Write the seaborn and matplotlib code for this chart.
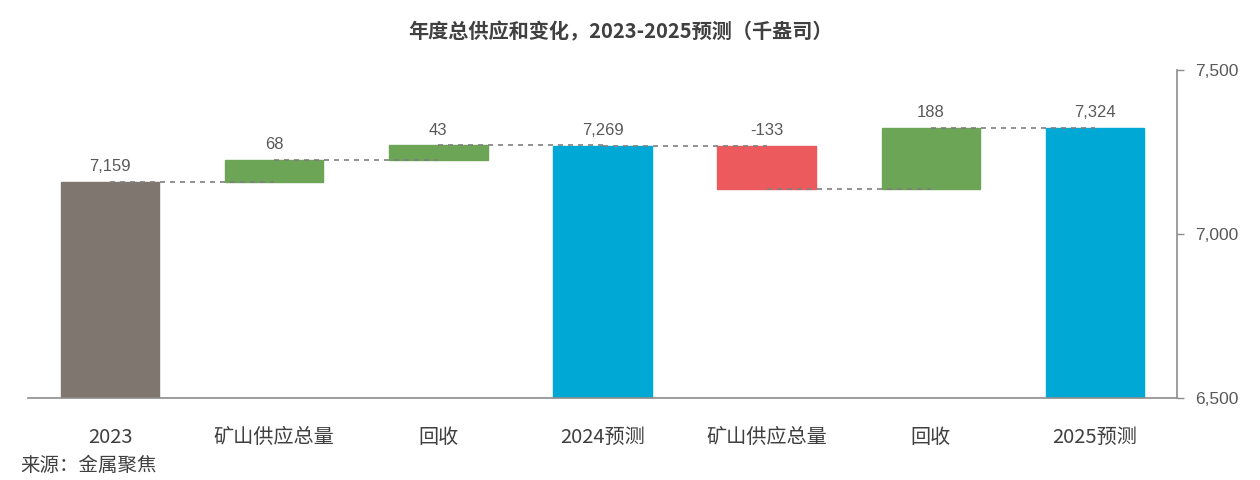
import numpy as np
import pandas as pd
import seaborn as sns
import matplotlib.pyplot as plt

categories = ['2023', '矿山供应总量', '回收', '2024预测', '矿山供应总量', '回收', '2025预测']
values = [7159, 68, 43, 7269, -133, 188, 7324]
is_total = [True, False, False, True, False, False, True]
labels = ['7,159', '68', '43', '7,269', '-133', '188', '7,324']
y_ticks = [6500, 7000, 7500]
y_ticklabels = ['6,500', '7,000', '7,500']
y_min, y_max = 6500, 7500

total_color = ['#7f766f', '#00a8d5', '#00a8d5']
up_color = '#6ca555'
down_color = '#ec5a5e'

# waterfall geometry
bottoms, heights, levels, colors = [], [], [], []
level = 0
k = 0
for v, tot in zip(values, is_total):
    if tot:
        bottoms.append(y_min)
        heights.append(v - y_min)
        level = v
        colors.append(total_color[k])
        k += 1
    else:
        bottoms.append(min(level, level + v))
        heights.append(abs(v))
        level = level + v
        colors.append(up_color if v > 0 else down_color)
    levels.append(level)

df = pd.DataFrame({'idx': range(len(categories)), 'height': heights})

sns.set_style('white')
plt.rcParams['font.family'] = ['Noto Sans CJK SC', 'DejaVu Sans']

fig = plt.figure(figsize=(12.6, 4.8), dpi=100)
ax = fig.add_axes([0.0222, 0.171, 0.912, 0.683])

sns.barplot(data=df, x='idx', y='height', bottom=bottoms, width=0.6,
            color=up_color, errorbar=None, ax=ax, zorder=2)
for p, c in zip(ax.patches, colors):
    p.set_facecolor(c)
    p.set_edgecolor(c)

# connectors
for i in range(len(values) - 1):
    ax.hlines(levels[i], i, i + 1, colors='#7f7f7f', linestyles=(0, (3, 3)),
              linewidth=1.2, zorder=3)

# value labels
for i in range(len(values)):
    top = bottoms[i] + heights[i]
    ax.text(i, top + 24, labels[i], ha='center', va='bottom', fontsize=12,
            color='#595959', family=['Liberation Sans', 'DejaVu Sans'])

ax.set_xlim(-0.5, len(categories) - 0.5)
ax.set_ylim(y_min, y_max)
ax.set_xlabel('')
ax.set_ylabel('')

ax.set_xticks(range(len(categories)))
ax.set_xticklabels(categories, fontsize=14.5, color='#404040')
ax.set_xticks(np.arange(-0.5, len(categories)), minor=True)
ax.tick_params(axis='x', which='major', length=0, pad=21)
ax.tick_params(axis='x', which='minor', length=6, width=1, color='#8c8c8c', direction='out')

ax.yaxis.tick_right()
ax.set_yticks(y_ticks)
ax.set_yticklabels(y_ticklabels, fontsize=12.5, color='#595959',
                   family=['Liberation Sans', 'DejaVu Sans'])
ax.tick_params(axis='y', length=5, width=1, color='#8c8c8c', direction='out', pad=8)

for s in ['left', 'top']:
    ax.spines[s].set_visible(False)
for s in ['right', 'bottom']:
    ax.spines[s].set_color('#8c8c8c')
    ax.spines[s].set_linewidth(1.2)

fig.text(0.4925, 0.933, '年度总供应和变化，2023-2025预测（千盎司）', ha='center', va='center',
         fontsize=14.5, fontweight='bold', color='#404040')
fig.text(0.016, 0.03, '来源：金属聚焦', ha='left', va='center', fontsize=14, color='#404040')

plt.savefig('out.png', dpi=100)
plt.close()
